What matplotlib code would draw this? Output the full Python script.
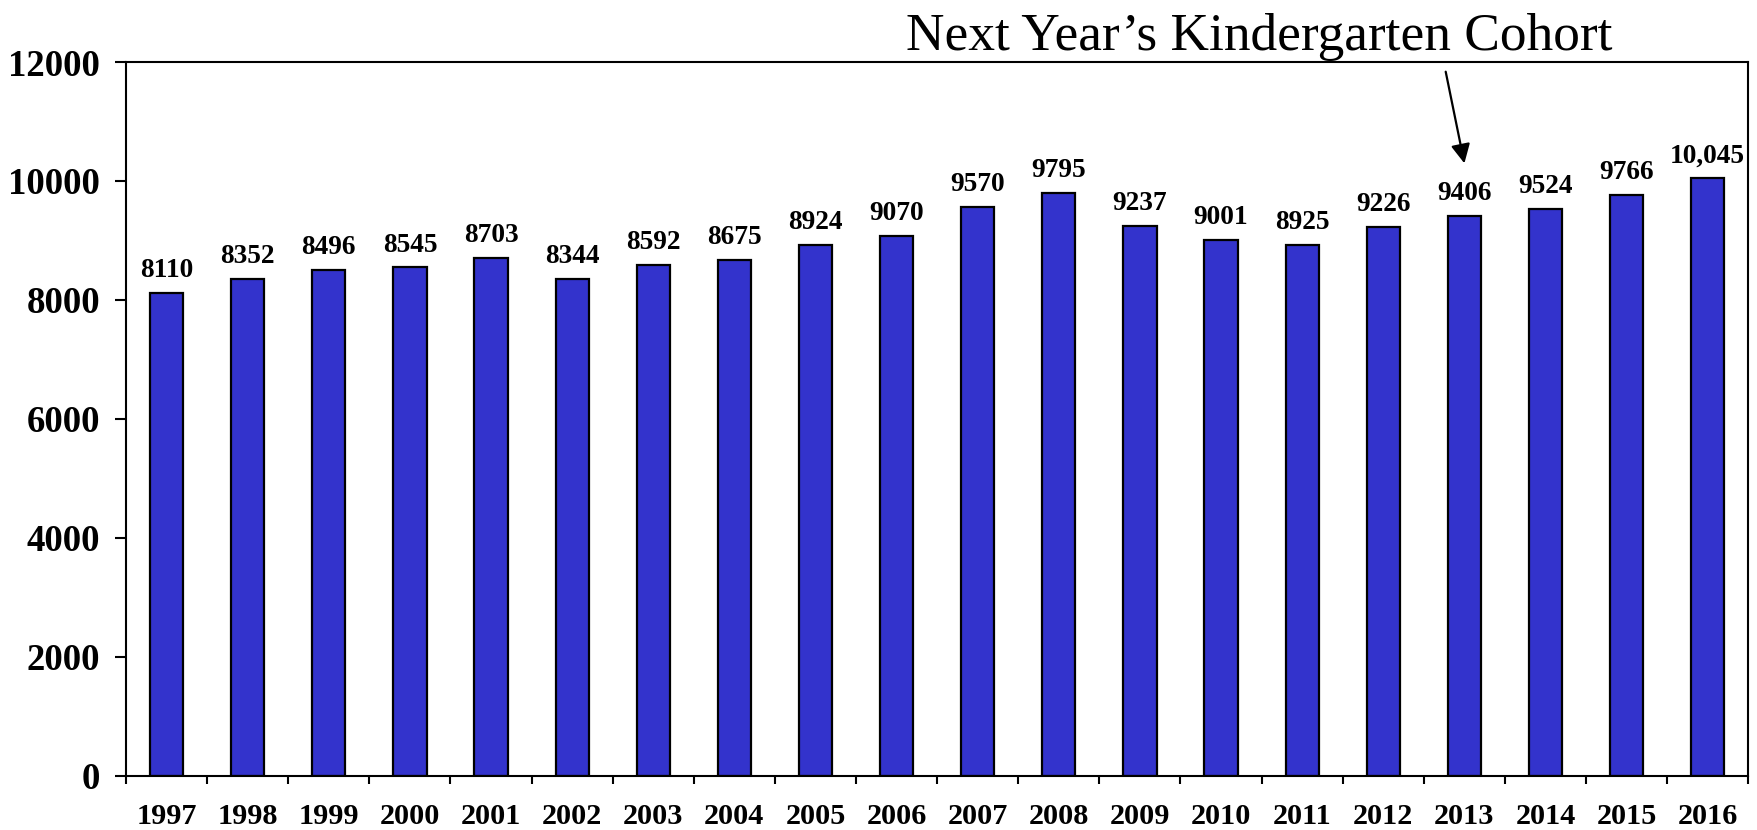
import matplotlib
matplotlib.use("Agg")
import matplotlib.pyplot as plt
import numpy as np

years = ["1997", "1998", "1999", "2000", "2001", "2002", "2003", "2004", "2005", "2006",
         "2007", "2008", "2009", "2010", "2011", "2012", "2013", "2014", "2015", "2016"]
counts = [8110, 8352, 8496, 8545, 8703, 8344, 8592, 8675, 8924, 9070,
          9570, 9795, 9237, 9001, 8925, 9226, 9406, 9524, 9766, 10045]
value_labels = ["8110", "8352", "8496", "8545", "8703", "8344", "8592", "8675", "8924", "9070",
                "9570", "9795", "9237", "9001", "8925", "9226", "9406", "9524", "9766", "10,045"]
y_ticks = [0, 2000, 4000, 6000, 8000, 10000, 12000]
title_text = "Next Year\u2019s Kindergarten Cohort"
arrow_year_index = 16

plt.rcParams['font.family'] = ['Liberation Serif', 'DejaVu Serif']

W, H = 1758, 830
fig = plt.figure(figsize=(W / 100, H / 100), dpi=100)
ax = fig.add_axes([126 / W, 1 - 775.7 / H, (1748.3 - 126) / W, (775.7 - 62) / H])

x = np.arange(len(years))
ax.bar(x, counts, width=0.41, color="#3333CC", edgecolor="black", linewidth=1.6, zorder=2)

for xi, v, lab in zip(x, counts, value_labels):
    ax.annotate(lab, (xi, v), xytext=(0, 11.5), textcoords="offset points",
                ha="center", va="baseline", fontsize=19.7, fontweight="bold")

ax.set_xlim(-0.5, len(years) - 0.5)
ax.set_ylim(0, 12000)
ax.set_yticks(y_ticks)
ax.set_yticklabels([str(t) for t in y_ticks], fontsize=26.5, fontweight="bold")
ax.tick_params(axis="y", direction="out", length=8, width=1.5, pad=10.5)

ax.set_xticks(x)
ax.set_xticklabels(years, fontsize=21.8, fontweight="bold")
ax.tick_params(axis="x", which="major", length=0, pad=20)
ax.set_xticks(np.arange(-0.5, len(years), 1.0), minor=True)
ax.tick_params(axis="x", which="minor", direction="out", length=5.5, width=1.5)

for s in ax.spines.values():
    s.set_linewidth(1.5)
    s.set_color("black")

fig.text(906 / W, 1 - 50 / H, title_text, fontsize=38.4, ha="left", va="baseline")

ax.annotate("", xy=(arrow_year_index, counts[arrow_year_index] + 890),
            xytext=(1445.7, H - 71.7), textcoords="figure pixels",
            arrowprops=dict(arrowstyle="-|>", color="black", lw=1.6,
                            mutation_scale=29, shrinkA=0, shrinkB=0),
            annotation_clip=False)

fig.savefig("out.png", dpi=100)
